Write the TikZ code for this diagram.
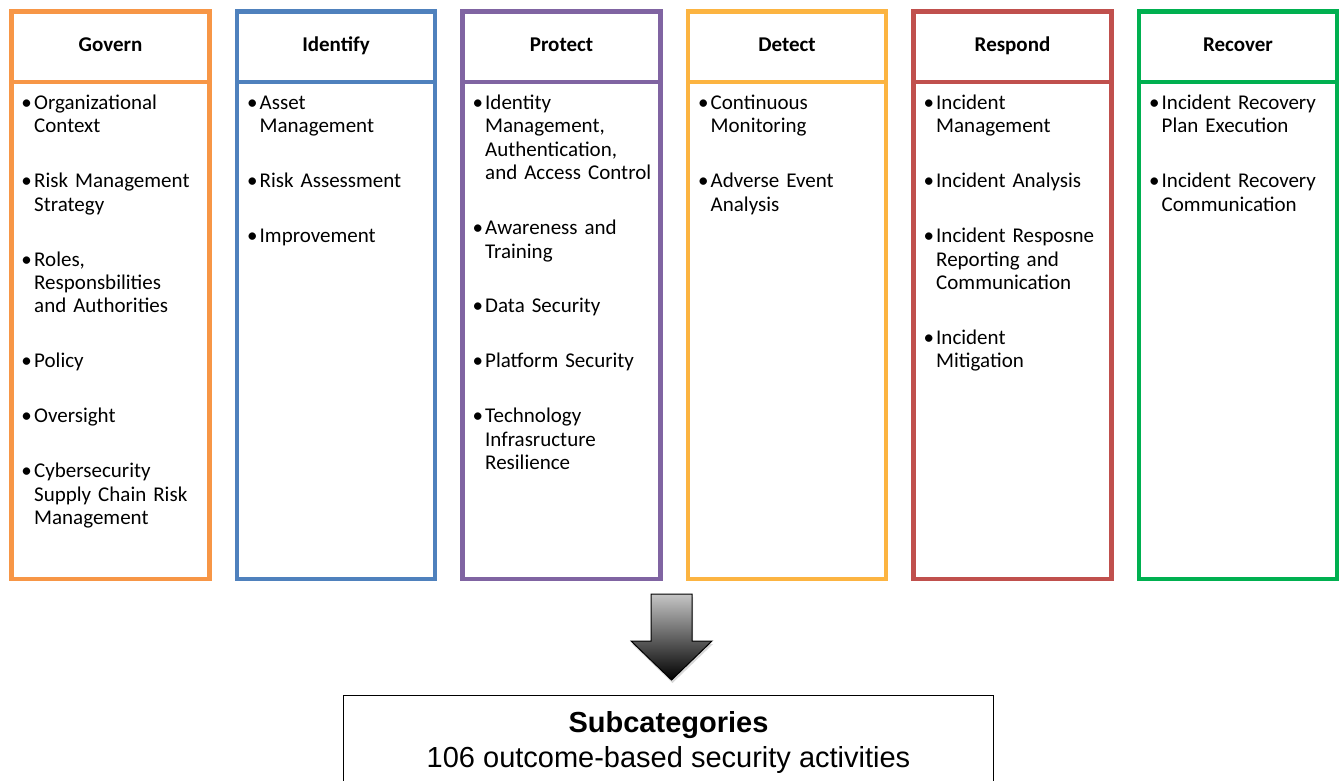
\documentclass[tikz,border=0pt]{standalone}
\usepackage{fontspec}
\usepackage{xcolor}
\usepackage{tikz}
\usetikzlibrary{positioning,shadows}
\setmainfont{Carlito}
\newfontfamily\subfont{Liberation Sans}
\definecolor{csfOrange}{RGB}{247,150,70}
\definecolor{csfBlue}{RGB}{79,129,189}
\definecolor{csfPurple}{RGB}{128,100,162}
\definecolor{csfYellow}{RGB}{252,180,65}
\definecolor{csfRed}{RGB}{192,80,77}
\definecolor{csfGreen}{RGB}{0,176,80}
\newcommand{\csfsize}{\fontsize{21}{23.4}\selectfont}
\newcommand{\csfitem}[1]{\hangindent=11.5pt\hangafter=1\noindent\makebox[11.5pt][l]{\hspace{-1.2pt}\textbullet}#1\par}

\begin{document}
\begin{tikzpicture}[x=1pt,y=-1pt,
  head/.style={draw=#1, line width=4.5pt, outer sep=0pt, minimum width=198pt, minimum height=70.5pt,
    text height=14pt, text depth=4.5pt, font=\csfsize\bfseries},
  body/.style={draw=#1, line width=4.5pt, outer sep=0pt, minimum width=198pt, minimum height=497pt},
  items/.style={anchor=base west, inner sep=0pt, text width=190pt, align=left, font=\csfsize},
]
\useasboundingbox (0,0) rectangle (1343,780);

\node[head=csfOrange, anchor=north west] (govH) at (11.5,11.5) {Govern};
\node[head=csfBlue, right=27.5pt of govH] (idH) {Identify};
\node[head=csfPurple, right=27.5pt of idH] (prH) {Protect};
\node[head=csfYellow, right=27.5pt of prH] (deH) {Detect};
\node[head=csfRed, right=27.5pt of deH] (rsH) {Respond};
\node[head=csfGreen, right=27.5pt of rsH] (rcH) {Recover};

\node[body=csfOrange, below=0pt of govH] (govB) {};
\node[body=csfBlue, below=0pt of idH] (idB) {};
\node[body=csfPurple, below=0pt of prH] (prB) {};
\node[body=csfYellow, below=0pt of deH] (deB) {};
\node[body=csfRed, below=0pt of rsH] (rsB) {};
\node[body=csfGreen, below=0pt of rcH] (rcB) {};

\node[items] (govL) at ([xshift=11pt,yshift=-27.5pt]govB.north west) {\setlength{\parskip}{31.5pt}%
  \csfitem{Organizational\newline Context}%
  \csfitem{Risk Management\newline Strategy}%
  \csfitem{Roles,\newline Responsbilities\newline and Authorities}%
  \csfitem{Policy}%
  \csfitem{Oversight}%
  \csfitem{Cybersecurity\newline Supply Chain Risk\newline Management}};
\node[items] (idL) at ([xshift=11pt,yshift=-27.5pt]idB.north west) {\setlength{\parskip}{31.5pt}%
  \csfitem{Asset\newline Management}%
  \csfitem{Risk Assessment}%
  \csfitem{Improvement}};
\node[items] (prL) at ([xshift=11pt,yshift=-27.5pt]prB.north west) {\setlength{\parskip}{31.5pt}%
  \csfitem{Identity\newline Management,\newline Authentication,\newline and Access Control}%
  \csfitem{Awareness and\newline Training}%
  \csfitem{Data Security}%
  \csfitem{Platform Security}%
  \csfitem{Technology\newline Infrasructure\newline Resilience}};
\node[items] (deL) at ([xshift=11pt,yshift=-27.5pt]deB.north west) {\setlength{\parskip}{31.5pt}%
  \csfitem{Continuous\newline Monitoring}%
  \csfitem{Adverse Event\newline Analysis}};
\node[items] (rsL) at ([xshift=11pt,yshift=-27.5pt]rsB.north west) {\setlength{\parskip}{31.5pt}%
  \csfitem{Incident\newline Management}%
  \csfitem{Incident Analysis}%
  \csfitem{Incident Resposne\newline Reporting and\newline Communication}%
  \csfitem{Incident\newline Mitigation}};
\node[items] (rcL) at ([xshift=11pt,yshift=-27.5pt]rcB.north west) {\setlength{\parskip}{31.5pt}%
  \csfitem{Incident Recovery\newline Plan Execution}%
  \csfitem{Incident Recovery\newline Communication}};

\node[draw, line width=1.3pt, minimum width=650pt, inner ysep=16.5pt, anchor=north, align=center,
  font=\subfont\fontsize{29}{35}\selectfont] (sub) at (668.5,694.5)
  {{\bfseries Subcategories}\\106 outcome-based security activities};

\draw[black, line width=1pt, top color=gray!45, bottom color=black,
  drop shadow={opacity=0.3, shadow xshift=1pt, shadow yshift=-3pt}]
  (651,594) -- (692,594) -- (692,641) -- (712,641) -- (671.5,680) -- (631,641) -- (651,641) -- cycle;
\end{tikzpicture}
\end{document}
